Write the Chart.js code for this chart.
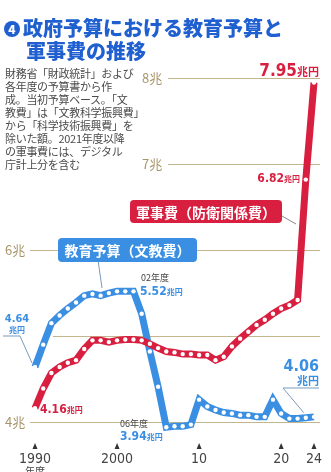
<!DOCTYPE html>
<html>
<head>
<meta charset="utf-8">
<script src="https://cdn.jsdelivr.net/npm/chart.js@4.4.1/dist/chart.umd.min.js"></script>
<style>
body { margin: 0; background: #fff; font-family: "Noto Sans CJK JP", sans-serif; }
#wrap { position: relative; width: 331px; height: 472px; overflow: hidden; }
#chart { position: absolute; left: 0; top: 0; }
.title { position: absolute; left: 4px; top: 16px; color: #1f5fd0; font-weight: 900; font-size: 20px; line-height: 23px; white-space: nowrap; }
.num { display: inline-block; width: 16px; height: 16px; border-radius: 50%; background: #1f5fd0; color: #fff; font-size: 12px; line-height: 16px; text-align: center; vertical-align: 2px; margin-right: 3px; }
.note { position: absolute; left: 5px; top: 67px; width: 132px; color: #4a4a4a; font-size: 11px; line-height: 13px; white-space: nowrap; letter-spacing: -0.3px; }
</style>
</head>
<body>
<div id="wrap">
  <canvas id="chart" width="331" height="472"></canvas>
  <div class="title"><span class="num">4</span>政府予算における教育予算と<br><span style="padding-left:22px">軍事費の推移</span></div>
  <div class="note">財務省「財政統計」および<br>各年度の予算書から作<br>成。当初予算ベース。「文<br>教費」は「文教科学振興費」<br>から「科学技術振興費」を<br>除いた額。2021年度以降<br>の軍事費には、デジタル<br>庁計上分を含む</div>
</div>
<script>
// 年度
const years = ["1990","1991","1992","1993","1994","1995","1996","1997","1998","1999",
               "2000","2001","2002","2003","2004","2005","2006","2007","2008","2009",
               "2010","2011","2012","2013","2014","2015","2016","2017","2018","2019",
               "2020","2021","2022","2023","2024"];

// 軍事費（防衛関係費） 兆円
const defense = [4.16, 4.39, 4.57, 4.64, 4.69, 4.72, 4.85, 4.95, 4.95, 4.93,
                 4.95, 4.96, 4.96, 4.95, 4.91, 4.86, 4.82, 4.81, 4.79, 4.79,
                 4.78, 4.78, 4.72, 4.76, 4.88, 4.97, 5.05, 5.13, 5.19, 5.26,
                 5.32, 5.36, 5.42, 6.82, 7.95];

// 教育予算（文教費） 兆円
const education = [4.64, 4.90, 5.15, 5.24, 5.32, 5.39, 5.47, 5.49, 5.47, 5.50,
                   5.52, 5.52, 5.52, 5.26, 4.82, 4.41, 3.94, 3.95, 3.95, 3.97,
                   4.26, 4.18, 4.14, 4.11, 4.10, 4.08, 4.08, 4.06, 4.06, 4.26,
                   4.10, 4.04, 4.04, 4.05, 4.06];

const gridValues = [8, 7, 6, 5, 4];
const gridLabels = ["8兆", "7兆", "6兆", "", "4兆"];
const xTickYears = ["1990", "2000", "2010", "2020", "2024"];
const xTickLabels = ["1990", "2000", "10", "20", "24"];

const RED = "#d81f40";
const BLUE = "#3b8fe2";
const GRID = "#c4b68c";

// where each gridline starts (px)
const gridStart = [168, 168, 30, 53, 30];
const gridLabelX = [142, 142, 5, 5, 5];

function valueLabel(ctx, x, y, big, small, color, bigSize, smallSize, align) {
  ctx.save();
  ctx.fillStyle = color;
  ctx.textBaseline = "alphabetic";
  ctx.font = "bold " + bigSize + "px 'DejaVu Sans Condensed', sans-serif";
  const w1 = ctx.measureText(big).width;
  ctx.font = "bold " + smallSize + "px 'Noto Sans CJK JP', sans-serif";
  const w2 = ctx.measureText(small).width;
  let sx = align === "right" ? x - w1 - w2 : x;
  ctx.font = "bold " + bigSize + "px 'DejaVu Sans Condensed', sans-serif";
  ctx.textAlign = "left";
  ctx.fillText(big, sx, y);
  ctx.font = "bold " + smallSize + "px 'Noto Sans CJK JP', sans-serif";
  ctx.fillText(small, sx + w1, y);
  ctx.restore();
}

function labelBox(ctx, x, y, w, h, text, color) {
  ctx.save();
  ctx.fillStyle = color;
  ctx.beginPath();
  ctx.roundRect(x, y, w, h, 4);
  ctx.fill();
  ctx.fillStyle = "#fff";
  ctx.font = "bold 14px 'Noto Sans CJK JP', sans-serif";
  ctx.textAlign = "center";
  ctx.textBaseline = "middle";
  ctx.fillText(text, x + w / 2, y + h / 2 + 1);
  ctx.restore();
}

const decor = {
  id: "decor",
  beforeDatasetsDraw(chart) {
    const { ctx, scales: { x, y } } = chart;
    ctx.save();
    ctx.strokeStyle = GRID;
    ctx.lineWidth = 1;
    gridValues.forEach((v, i) => {
      const py = Math.round(y.getPixelForValue(v)) + 0.5;
      ctx.beginPath();
      ctx.moveTo(gridStart[i], py);
      ctx.lineTo(320, py);
      ctx.stroke();
      if (gridLabels[i]) {
        ctx.fillStyle = "#a8966a";
        ctx.font = "13px 'Noto Sans CJK JP', sans-serif";
        ctx.textBaseline = "middle";
        ctx.textAlign = "left";
        ctx.fillText(gridLabels[i], gridLabelX[i], py);
      }
    });
    // x ticks
    xTickYears.forEach((yr, i) => {
      const px = x.getPixelForValue(years.indexOf(yr));
      ctx.fillStyle = "#333";
      ctx.beginPath();
      ctx.moveTo(px, 443);
      ctx.lineTo(px - 2.5, 449);
      ctx.lineTo(px + 2.5, 449);
      ctx.closePath();
      ctx.fill();
      ctx.font = "14px 'DejaVu Sans Condensed', sans-serif";
      ctx.textAlign = "center";
      ctx.textBaseline = "middle";
      ctx.fillStyle = "#444";
      ctx.fillText(xTickLabels[i], px, 459);
    });
    ctx.font = "10px 'Noto Sans CJK JP', sans-serif";
    ctx.fillText("年度", x.getPixelForValue(0), 471);

    // boxes and pointers
    ctx.strokeStyle = "#888";
    ctx.lineWidth = 1;
    ctx.beginPath();
    ctx.moveTo(282, 216);
    ctx.lineTo(296, 224);
    ctx.stroke();
    ctx.strokeStyle = "#7a9bbd";
    ctx.beginPath();
    ctx.moveTo(98, 260);
    ctx.lineTo(102, 288);
    ctx.stroke();
    labelBox(ctx, 130, 200, 152, 23, "軍事費（防衛関係費）", RED);
    labelBox(ctx, 58, 238, 139, 24, "教育予算（文教費）", BLUE);

    // leader lines for 4.64 and 4.06
    ctx.strokeStyle = "#7a9bbd";
    const e0x = x.getPixelForValue(0), e0y = y.getPixelForValue(education[0]);
    ctx.beginPath();
    ctx.moveTo(3, 336);
    ctx.lineTo(20, 336);
    ctx.lineTo(e0x - 3, e0y - 4);
    ctx.stroke();
    const eLx = x.getPixelForValue(33), eLy = y.getPixelForValue(education[33]);
    ctx.beginPath();
    ctx.moveTo(319, 388);
    ctx.lineTo(283, 388);
    ctx.lineTo(eLx - 2, eLy - 5);
    ctx.stroke();
    ctx.restore();
  },
  afterDatasetsDraw(chart) {
    const { ctx, scales: { x, y } } = chart;
    const last = years.length - 1;
    // 7.95
    valueLabel(ctx, 319, y.getPixelForValue(defense[last]) - 6, "7.95", "兆円", RED, 17, 11, "right");
    // 6.82
    valueLabel(ctx, 300, y.getPixelForValue(defense[last - 1]) + 2, "6.82", "兆円", RED, 12, 8, "right");
    // 4.16
    valueLabel(ctx, x.getPixelForValue(0) + 5, y.getPixelForValue(defense[0]) + 5, "4.16", "兆円", RED, 12, 8, "left");
    // 5.52 / 3.94
    ctx.save();
    ctx.fillStyle = "#444";
    ctx.font = "9px 'Noto Sans CJK JP', sans-serif";
    ctx.fillText("02年度", 141, 281);
    ctx.fillText("06年度", 120, 427);
    ctx.restore();
    valueLabel(ctx, 140, 295, "5.52", "兆円", BLUE, 12, 8, "left");
    valueLabel(ctx, 120, 440, "3.94", "兆円", BLUE, 12, 8, "left");
    // 4.64
    ctx.save();
    ctx.fillStyle = BLUE;
    ctx.font = "bold 11px 'DejaVu Sans Condensed', sans-serif";
    ctx.textAlign = "center";
    ctx.fillText("4.64", 17, 322);
    ctx.font = "bold 8px 'Noto Sans CJK JP', sans-serif";
    ctx.fillText("兆円", 17, 333);
    // 4.06
    ctx.font = "bold 16px 'DejaVu Sans Condensed', sans-serif";
    ctx.textAlign = "right";
    ctx.fillText("4.06", 319, 371);
    ctx.font = "bold 11px 'Noto Sans CJK JP', sans-serif";
    ctx.fillText("兆円", 319, 385);
    ctx.restore();
  }
};

new Chart(document.getElementById("chart").getContext("2d"), {
  type: "line",
  data: {
    labels: years,
    datasets: [
      {
        label: "軍事費（防衛関係費）",
        data: defense,
        borderColor: RED,
        borderWidth: 7,
        pointRadius: 2.2,
        pointBackgroundColor: "#fff",
        pointBorderWidth: 0,
        tension: 0,
        clip: false
      },
      {
        label: "教育予算（文教費）",
        data: education,
        borderColor: BLUE,
        borderWidth: 7,
        pointRadius: 2.2,
        pointBackgroundColor: "#fff",
        pointBorderWidth: 0,
        tension: 0,
        clip: false
      }
    ]
  },
  options: {
    responsive: false,
    animation: false,
    layout: { padding: { left: 35, right: 17, top: 61, bottom: 7 } },
    plugins: { legend: { display: false }, tooltip: { enabled: false } },
    scales: {
      x: { display: false },
      y: { display: false, min: 3.5, max: 8.2 }
    }
  },
  plugins: [decor]
});
</script>
</body>
</html>
